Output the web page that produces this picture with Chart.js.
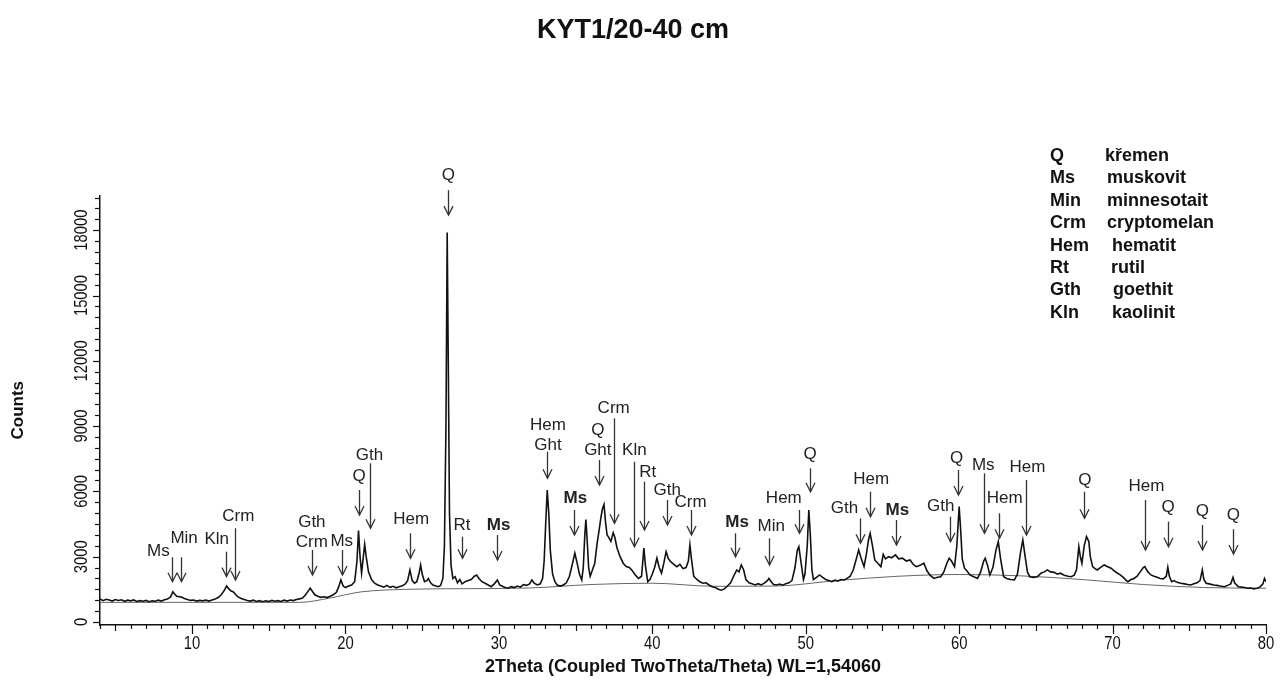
<!DOCTYPE html>
<html>
<head>
<meta charset="utf-8">
<title>KYT1/20-40 cm</title>
<script src="https://cdn.jsdelivr.net/npm/chart.js@4.4.1/dist/chart.umd.min.js"></script>
<style>
  html, body { margin: 0; padding: 0; background: #fff; }
  #wrap { width: 1286px; height: 684px; }
</style>
</head>
<body>
<div id="wrap"><canvas id="xrd" width="1286" height="684"></canvas></div>
<script>
/* ---- data ---- */

// measured scan: [2theta, counts]
const scan = [
  [4.0,1060],[4.2,980],[4.4,1040],[4.6,1010],[4.8,960],[5.0,1030],[5.2,990],[5.4,1020],[5.6,950],[5.8,1000],
  [6.0,970],[6.2,1010],[6.4,940],[6.6,980],[6.8,950],[7.0,990],[7.2,930],[7.4,970],[7.6,950],[7.8,1000],
  [8.0,960],[8.2,1020],[8.4,1050],[8.6,1150],[8.75,1390],[8.85,1300],[9.0,1180],[9.2,1160],[9.35,1130],[9.5,1080],
  [9.7,1030],[9.9,990],[10.1,1010],[10.3,960],[10.5,990],[10.7,970],[10.9,1000],[11.1,960],[11.3,1010],[11.5,1050],
  [11.7,1120],[11.9,1250],[12.1,1450],[12.25,1650],[12.4,1520],[12.55,1420],[12.7,1380],[12.85,1250],[13.0,1150],[13.2,1080],
  [13.4,1030],[13.6,990],[13.8,960],[14.0,1000],[14.2,940],[14.4,980],[14.6,930],[14.8,970],[15.0,940],[15.2,990],
  [15.4,950],[15.6,980],[15.8,940],[16.0,1000],[16.2,960],[16.4,1010],[16.6,980],[16.8,1030],[17.0,1060],[17.2,1100],
  [17.4,1250],[17.6,1450],[17.7,1550],[17.85,1400],[18.0,1250],[18.2,1180],[18.4,1130],[18.6,1160],[18.8,1120],[19.0,1180],
  [19.2,1250],[19.4,1350],[19.55,1600],[19.7,1930],[19.85,1650],[20.0,1580],[20.2,1650],[20.4,1700],[20.6,1850],[20.75,2800],
  [20.85,4200],[20.95,3000],[21.05,2250],[21.15,2900],[21.25,3560],[21.35,3000],[21.5,2300],[21.7,1950],[21.9,1780],[22.1,1700],
  [22.3,1650],[22.5,1600],[22.7,1680],[22.9,1590],[23.1,1640],[23.3,1570],[23.5,1620],[23.7,1660],[23.9,1750],[24.05,1900],
  [24.2,2390],[24.35,1900],[24.5,1780],[24.65,1850],[24.8,2250],[24.9,2620],[25.0,2200],[25.15,1850],[25.3,1900],[25.4,2000],
  [25.55,1800],[25.7,1700],[25.9,1650],[26.05,1620],[26.2,1680],[26.35,2000],[26.45,3500],[26.55,9000],[26.63,17900],[26.7,12000],
  [26.78,5000],[26.88,2600],[27.0,2000],[27.15,2080],[27.3,1800],[27.45,1950],[27.6,1750],[27.8,1850],[28.0,1900],[28.2,1950],
  [28.4,2100],[28.55,2160],[28.7,2000],[28.9,1850],[29.1,1780],[29.3,1700],[29.5,1620],[29.7,1750],[29.9,1930],[30.05,1700],
  [30.2,1650],[30.4,1580],[30.6,1550],[30.8,1620],[31.0,1580],[31.2,1650],[31.4,1600],[31.6,1720],[31.8,1680],[32.0,1750],
  [32.15,1930],[32.3,1780],[32.5,1700],[32.7,1750],[32.85,2000],[32.95,2800],[33.05,4500],[33.15,6060],[33.25,5000],[33.35,3300],
  [33.5,2200],[33.65,1850],[33.8,1700],[34.0,1650],[34.2,1700],[34.4,1800],[34.6,2100],[34.8,2700],[34.95,3160],[35.1,2700],
  [35.25,2200],[35.4,1930],[35.5,2500],[35.6,4000],[35.67,4700],[35.75,3800],[35.85,2500],[35.95,2100],[36.1,2400],[36.25,2700],
  [36.4,3600],[36.55,4300],[36.65,4800],[36.75,5200],[36.85,5400],[36.95,4600],[37.05,4000],[37.15,3900],[37.3,3700],[37.45,4100],
  [37.55,3900],[37.7,3400],[37.9,3000],[38.1,2700],[38.3,2550],[38.5,2500],[38.7,2350],[38.9,2150],[39.1,2000],[39.3,2100],
  [39.45,3390],[39.55,2600],[39.7,1850],[39.85,1950],[40.0,2200],[40.15,2500],[40.3,2930],[40.45,2500],[40.6,2240],[40.75,2700],
  [40.9,3230],[41.05,2900],[41.2,2770],[41.4,2650],[41.6,2540],[41.8,2650],[42.0,2450],[42.2,2500],[42.35,2800],[42.45,3540],
  [42.55,2900],[42.7,2100],[42.9,1950],[43.1,1850],[43.3,1780],[43.5,1800],[43.7,1700],[43.9,1620],[44.1,1580],[44.3,1500],
  [44.5,1460],[44.7,1520],[44.9,1650],[45.1,1800],[45.3,2100],[45.5,2390],[45.65,2300],[45.8,2620],[45.95,2400],[46.1,1950],
  [46.3,1800],[46.5,1750],[46.7,1700],[46.9,1760],[47.1,1700],[47.3,1780],[47.5,1900],[47.6,2000],[47.75,1850],[47.9,1720],
  [48.1,1700],[48.3,1740],[48.5,1690],[48.7,1760],[48.9,1800],[49.1,1900],[49.3,2500],[49.45,3300],[49.55,3460],[49.7,2700],
  [49.85,1950],[49.95,2200],[50.1,3500],[50.2,5140],[50.3,4000],[50.4,2400],[50.5,1950],[50.7,2050],[50.9,2160],[51.1,2050],
  [51.3,1950],[51.5,1900],[51.7,1850],[51.9,1920],[52.1,1880],[52.3,1950],[52.5,1930],[52.7,2000],[52.9,2100],[53.1,2400],
  [53.3,2900],[53.45,3310],[53.6,2950],[53.8,2540],[53.95,3100],[54.1,3800],[54.2,4070],[54.35,3500],[54.5,2850],[54.7,2700],
  [54.9,2540],[55.05,3100],[55.2,2900],[55.4,3000],[55.6,2950],[55.85,3080],[56.05,2900],[56.3,2930],[56.55,2800],[56.8,2850],
  [57.0,2650],[57.2,2540],[57.45,2600],[57.7,2700],[57.9,2350],[58.1,2150],[58.35,2000],[58.6,2050],[58.8,2080],[59.0,2300],
  [59.2,2700],[59.35,2930],[59.5,2800],[59.7,2540],[59.85,3500],[60.0,5300],[60.1,4200],[60.2,2900],[60.35,2470],[60.5,2350],
  [60.7,2160],[60.95,2080],[61.2,2000],[61.4,2300],[61.6,2800],[61.7,2930],[61.85,2600],[62.0,2160],[62.2,2500],[62.4,3300],
  [62.55,3690],[62.7,2900],[62.9,2080],[63.1,2000],[63.35,1950],[63.6,1930],[63.8,2200],[64.0,3200],[64.15,3770],[64.3,3000],
  [64.45,2300],[64.6,2080],[64.85,2050],[65.1,2080],[65.35,2250],[65.55,2300],[65.75,2390],[65.95,2300],[66.2,2280],[66.4,2200],
  [66.6,2240],[66.85,2150],[67.1,2100],[67.3,2080],[67.5,2150],[67.65,2400],[67.8,3460],[67.9,3000],[68.0,2700],[68.15,3500],
  [68.3,3920],[68.45,3700],[68.55,3000],[68.7,2540],[68.85,2450],[69.0,2390],[69.2,2500],[69.45,2620],[69.65,2550],[69.9,2470],
  [70.1,2350],[70.3,2250],[70.5,2160],[70.7,2050],[70.9,1900],[71.0,1850],[71.2,1950],[71.4,2000],[71.6,2100],[71.8,2300],
  [72.0,2500],[72.1,2540],[72.3,2300],[72.5,2160],[72.7,2100],[72.9,2050],[73.1,2000],[73.3,1980],[73.5,2100],[73.6,2510],
  [73.7,2100],[73.85,1850],[74.0,1900],[74.2,1820],[74.45,1780],[74.7,1750],[74.9,1720],[75.1,1700],[75.3,1750],[75.5,1800],
  [75.7,1900],[75.85,2390],[75.95,1950],[76.1,1780],[76.3,1750],[76.6,1700],[76.8,1680],[77.0,1650],[77.3,1620],[77.5,1680],
  [77.7,1750],[77.85,2050],[77.95,1800],[78.2,1620],[78.4,1600],[78.6,1580],[78.8,1550],[79.0,1560],[79.2,1520],[79.4,1550],
  [79.6,1600],[79.8,1750],[79.9,2000],[80.0,1850]
];

// fitted background curve: [2theta, counts]
const backgroundFit = [
  [4,900],[10,900],[17,900],[19,1100],[20,1250],[21,1380],[24,1500],[28,1530],[32,1560],[36,1720],
  [40,1780],[44,1640],[48,1650],[52,1900],[56,2100],[60,2180],[64,2120],[68,1950],[72,1720],[76,1580],[80,1550]
];

// phase marks: [label, arrow 2theta, arrow tail counts, arrow tip counts, label 2theta, label counts, bold]
const phaseMarks = [
  ['Ms', 8.68, 2972, 1851, 7.80, 3229, false],
  ['Min', 9.26, 2972, 1851, 9.48, 3844, false],
  ['Kln', 12.22, 3229, 2081, 11.61, 3798, false],
  ['Crm', 12.81, 4304, 1929, 13.02, 4869, false],
  ['Gth\nCrm', 17.83, 3307, 2159, 17.81, 3651, false],
  ['Ms', 19.76, 3307, 2159, 19.76, 3697, false],
  ['Q', 20.89, 6063, 4915, 20.89, 6674, false],
  ['Gth', 21.61, 7289, 4304, 21.57, 7670, false],
  ['Hem', 24.22, 4074, 2926, 24.29, 4717, false],
  ['Q', 26.70, 19842, 18694, 26.70, 20530, false],
  ['Rt', 27.59, 3918, 2926, 27.59, 4455, false],
  ['Ms', 29.90, 3996, 2848, 29.98, 4455, true],
  ['Hem\nGht', 33.16, 7822, 6600, 33.20, 8130, false],
  ['Ms', 34.87, 5144, 3996, 34.98, 5682, true],
  ['Q\nGht', 36.55, 7441, 6292, 36.45, 7868, false],
  ['Crm', 37.53, 9356, 4533, 37.48, 9815, false],
  ['Kln', 38.83, 7363, 3459, 38.83, 7900, false],
  ['Rt', 39.44, 6444, 4226, 39.70, 6857, false],
  ['Gth', 40.97, 5603, 4455, 40.97, 6063, false],
  ['Crm', 42.49, 5144, 3996, 42.49, 5480, false],
  ['Ms', 45.42, 4074, 2999, 45.53, 4561, true],
  ['Min', 47.59, 3844, 2618, 47.75, 4377, false],
  ['Hem', 49.55, 5144, 4074, 48.57, 5682, false],
  ['Q', 50.28, 7059, 5985, 50.28, 7716, false],
  ['Gth', 53.51, 4763, 3615, 52.53, 5222, false],
  ['Hem', 54.18, 5985, 4836, 54.27, 6554, false],
  ['Ms', 55.86, 4685, 3537, 55.97, 5144, true],
  ['Gth', 59.40, 4836, 3688, 58.80, 5328, false],
  ['Q', 59.92, 6981, 5833, 59.84, 7519, false],
  ['Ms', 61.62, 6830, 4074, 61.57, 7211, false],
  ['Hem', 62.60, 4993, 3844, 62.97, 5682, false],
  ['Hem', 64.34, 6522, 3996, 64.45, 7105, false],
  ['Q', 68.14, 5985, 4763, 68.19, 6522, false],
  ['Hem', 72.10, 5603, 3307, 72.21, 6214, false],
  ['Q', 73.62, 4607, 3459, 73.62, 5268, false],
  ['Q', 75.86, 4455, 3307, 75.86, 5066, false],
  ['Q', 77.88, 4258, 3123, 77.88, 4915, false]
];

const legendCodes = ['Q', 'Ms', 'Min', 'Crm', 'Hem', 'Rt', 'Gth', 'Kln'];
const legendNames = ['křemen', 'muskovit', 'minnesotait', 'cryptomelan', 'hematit', 'rutil', 'goethit', 'kaolinit'];

const yTickLabels = [0, 3000, 6000, 9000, 12000, 15000, 18000];
const xTickLabels = [10, 20, 30, 40, 50, 60, 70, 80];

/* ---- styling ---- */
const INK = '#111';
const SANS = "'Liberation Sans', Arial, sans-serif";
const LEG_X = 1050, LEG_Y = 156, LEG_ROW = 22.4;
const LEG_NAME_X = [1105, 1107, 1107, 1107, 1112, 1111, 1113, 1112];
const NARROW_SQUEEZE = 0.78; // tick digits are condensed in the original

// ticks, condensed tick labels, phase arrows and mineral key
const xrdDecor = {
  id: 'xrdDecor',
  afterDraw(chart) {
    const { ctx, scales: { x, y } } = chart;
    ctx.save();
    ctx.strokeStyle = INK;
    ctx.fillStyle = INK;
    ctx.lineWidth = 1.2;

    // x ticks: every degree, longer at 5 and 10
    for (let t = Math.ceil(x.min); t <= x.max; t++) {
      const px = Math.round(x.getPixelForValue(t)) + 0.5;
      const len = t % 10 === 0 ? 9 : t % 5 === 0 ? 6 : 4;
      ctx.beginPath(); ctx.moveTo(px, y.bottom); ctx.lineTo(px, y.bottom + len); ctx.stroke();
    }
    // y ticks: every 500 counts
    for (let v = 0; v <= y.max; v += 500) {
      const py = Math.round(y.getPixelForValue(v)) + 0.5;
      const len = v % 3000 === 0 ? 7 : 5;
      ctx.beginPath(); ctx.moveTo(x.left, py); ctx.lineTo(x.left - len, py); ctx.stroke();
    }

    // condensed tick labels
    ctx.font = `19px ${SANS}`;
    ctx.textAlign = 'center';
    ctx.textBaseline = 'middle';
    xTickLabels.forEach(v => {
      ctx.save();
      ctx.translate(x.getPixelForValue(v), y.bottom + 19);
      ctx.scale(NARROW_SQUEEZE, 1);
      ctx.fillText(String(v), 0, 0);
      ctx.restore();
    });
    yTickLabels.forEach(v => {
      ctx.save();
      ctx.translate(x.left - 18, y.getPixelForValue(v));
      ctx.rotate(-Math.PI / 2);
      ctx.scale(NARROW_SQUEEZE, 1);
      ctx.fillText(String(v), 0, 0);
      ctx.restore();
    });

    // phase arrows with labels
    phaseMarks.forEach(([text, at, tail, tip, lx, ly, bold]) => {
      const ax = Math.round(x.getPixelForValue(at)) + 0.5;
      const y0 = y.getPixelForValue(tail), y1 = y.getPixelForValue(tip);
      ctx.strokeStyle = '#333';
      ctx.lineWidth = 1.3;
      ctx.beginPath(); ctx.moveTo(ax, y0); ctx.lineTo(ax, y1); ctx.stroke();
      ctx.beginPath(); ctx.moveTo(ax - 4.5, y1 - 9); ctx.lineTo(ax, y1); ctx.lineTo(ax + 4.5, y1 - 9); ctx.stroke();
      ctx.fillStyle = '#222';
      ctx.font = `${bold ? 'bold ' : ''}17px ${SANS}`;
      const lines = text.split('\n');
      const lxp = x.getPixelForValue(lx), lyp = y.getPixelForValue(ly);
      lines.forEach((s, i) => ctx.fillText(s, lxp, lyp - (lines.length - 1 - i) * 20));
    });

    // mineral key (top right)
    ctx.fillStyle = INK;
    ctx.font = `bold 18px ${SANS}`;
    ctx.textAlign = 'left';
    legendCodes.forEach((c, i) => {
      const ty = LEG_Y + i * LEG_ROW;
      ctx.fillText(c, LEG_X, ty);
      ctx.fillText(legendNames[i], LEG_NAME_X[i], ty);
    });
    ctx.restore();
  }
};

new Chart(document.getElementById('xrd'), {
  type: 'scatter',
  data: {
    datasets: [
      { label: 'Background', data: backgroundFit.map(([t, c]) => ({ x: t, y: c })),
        showLine: true, borderColor: '#666', borderWidth: 1, pointRadius: 0, cubicInterpolationMode: 'monotone', order: 2 },
      { label: 'KYT1/20-40 cm', data: scan.map(([t, c]) => ({ x: t, y: c })),
        showLine: true, borderColor: INK, borderWidth: 1.6, pointRadius: 0, tension: 0, order: 1 }
    ]
  },
  options: {
    responsive: false,
    animation: false,
    layout: { padding: { top: 0, right: 20, bottom: 0, left: 0 } },
    plugins: {
      legend: { display: false },
      tooltip: { enabled: false },
      title: { display: true, text: 'KYT1/20-40 cm', color: INK,
        font: { family: SANS, size: 27, weight: 'bold' }, padding: { top: 14, bottom: 149 } }
    },
    scales: {
      x: {
        type: 'linear', min: 4, max: 80,
        grid: { display: true, drawOnChartArea: false, drawTicks: false },
        border: { color: INK, width: 1.5 },
        ticks: { display: false },
        title: { display: true, text: '2Theta (Coupled TwoTheta/Theta) WL=1,54060', color: INK,
          font: { family: SANS, size: 18, weight: 'bold' }, padding: { top: 0, bottom: 6 } },
        afterFit: s => { s.height = 59; }
      },
      y: {
        min: -140, max: 19600,
        grid: { display: true, drawOnChartArea: false, drawTicks: false },
        border: { color: INK, width: 1.5 },
        ticks: { display: false },
        title: { display: true, text: 'Counts', color: INK,
          font: { family: SANS, size: 17, weight: 'bold' }, padding: { top: 8, bottom: 0 } },
        afterFit: s => { s.width = 100; }
      }
    }
  },
  plugins: [xrdDecor]
});
</script>
</body>
</html>
